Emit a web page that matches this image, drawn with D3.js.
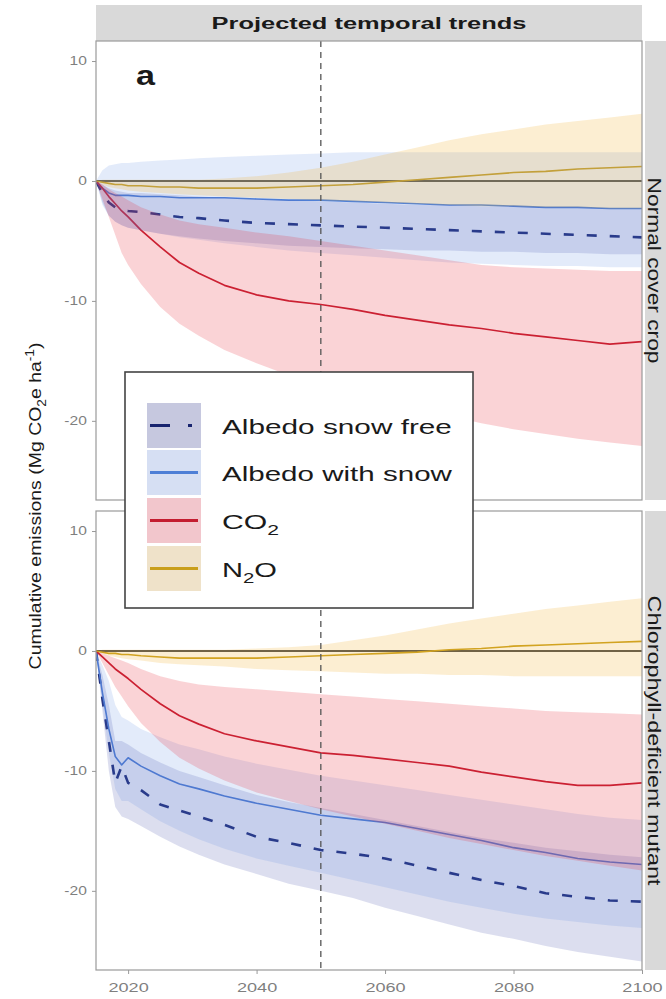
<!DOCTYPE html>
<html>
<head>
<meta charset="utf-8">
<script src="https://cdn.jsdelivr.net/npm/d3@7"></script>
<style>
body{margin:0;background:#fff}
svg{display:block;font-family:"Liberation Sans",Arial,sans-serif}
</style>
</head>
<body>
<svg id="chart" width="666" height="999"></svg>
<script>
var years = [2015, 2016, 2017, 2018, 2019, 2020, 2022, 2025, 2028, 2031, 2035, 2040, 2045, 2050, 2055, 2060, 2065, 2070, 2075, 2080, 2085, 2090, 2095, 2100];

var facets = ['Normal cover crop', 'Chlorophyll-deficient mutant'];
var seriesLabels = [['Albedo snow free'], ['Albedo with snow'], ['CO', '_2'], ['N', '_2', 'O']];
var yTicks = [-20, -10, 0, 10];
var xTicks = [2020, 2040, 2060, 2080, 2100];
var markYear = 2050;

// normal cover crop
var ncSnowFree   = [0, -1.0, -1.8, -2.2, -2.4, -2.5, -2.6, -2.8, -3.0, -3.1, -3.3, -3.5, -3.6, -3.7, -3.8, -3.9, -4.0, -4.1, -4.2, -4.3, -4.4, -4.5, -4.6, -4.7];
var ncSnowFreeHi = [0, -0.3, -0.6, -0.8, -0.9, -1.0, -1.0, -1.1, -1.2, -1.3, -1.4, -1.5, -1.6, -1.7, -1.8, -1.9, -2.0, -2.0, -2.1, -2.1, -2.2, -2.2, -2.3, -2.3];
var ncSnowFreeLo = [0, -1.8, -2.9, -3.4, -3.7, -3.9, -4.1, -4.4, -4.6, -4.8, -5.0, -5.2, -5.4, -5.5, -5.6, -5.7, -5.8, -5.8, -5.9, -5.9, -6.0, -6.0, -6.1, -6.1];
var ncSnow   = [0, -0.6, -1.0, -1.2, -1.2, -1.2, -1.3, -1.3, -1.4, -1.4, -1.4, -1.5, -1.6, -1.6, -1.7, -1.8, -1.9, -2.0, -2.0, -2.1, -2.2, -2.2, -2.3, -2.3];
var ncSnowHi = [0, 0.9, 1.3, 1.4, 1.5, 1.5, 1.6, 1.7, 1.8, 1.9, 2.0, 2.1, 2.2, 2.3, 2.4, 2.4, 2.4, 2.4, 2.4, 2.4, 2.4, 2.4, 2.4, 2.4];
var ncSnowLo = [0, -2.0, -2.9, -3.4, -3.7, -3.9, -4.1, -4.4, -4.7, -4.9, -5.2, -5.5, -5.8, -6.0, -6.2, -6.4, -6.6, -6.8, -6.9, -7.0, -7.1, -7.1, -7.2, -7.2];
var ncCO2   = [0, -0.6, -1.3, -1.9, -2.5, -3.0, -4.1, -5.5, -6.8, -7.7, -8.7, -9.5, -10.0, -10.3, -10.7, -11.2, -11.6, -12.0, -12.3, -12.7, -13.0, -13.3, -13.6, -13.4];
var ncCO2Hi = [0, -0.3, -0.7, -1.0, -1.3, -1.6, -2.2, -2.8, -3.3, -3.6, -3.9, -4.3, -4.6, -5.0, -5.4, -5.8, -6.2, -6.6, -7.0, -7.2, -7.3, -7.4, -7.5, -7.5];
var ncCO2Lo = [0, -1.5, -3.0, -4.5, -6.0, -7.0, -8.6, -10.5, -11.9, -12.9, -14.1, -15.2, -16.2, -17.0, -17.7, -18.4, -19.0, -19.6, -20.2, -20.7, -21.1, -21.5, -21.8, -22.1];
var ncN2O   = [0, -0.1, -0.2, -0.3, -0.3, -0.4, -0.4, -0.5, -0.5, -0.6, -0.6, -0.6, -0.5, -0.4, -0.3, -0.1, 0.1, 0.3, 0.5, 0.7, 0.8, 1.0, 1.1, 1.2];
var ncN2OHi = [0, 0.1, 0.1, 0.1, 0.1, 0.1, 0.1, 0.1, 0.1, 0.1, 0.2, 0.4, 0.7, 1.1, 1.6, 2.2, 2.8, 3.4, 3.9, 4.3, 4.7, 5.0, 5.3, 5.6];
var ncN2OLo = [0, -0.3, -0.5, -0.6, -0.7, -0.8, -0.9, -1.0, -1.1, -1.2, -1.3, -1.4, -1.5, -1.6, -1.7, -1.8, -1.9, -2.0, -2.1, -2.1, -2.2, -2.2, -2.3, -2.3];

// chlorophyll-deficient mutant
var cdSnowFree   = [0, -4.0, -7.5, -11.0, -9.6, -11.0, -11.6, -12.8, -13.3, -13.8, -14.5, -15.5, -16.0, -16.6, -16.9, -17.3, -17.9, -18.5, -19.1, -19.6, -20.2, -20.5, -20.8, -20.9];
var cdSnowFreeHi = [0, -2.0, -4.5, -7.5, -7.5, -7.8, -8.5, -9.3, -10.0, -10.5, -11.2, -12.0, -12.6, -13.1, -13.6, -14.1, -14.6, -15.1, -15.6, -16.0, -16.4, -16.7, -17.0, -17.2];
var cdSnowFreeLo = [0, -5.0, -10.0, -13.0, -13.8, -14.0, -14.6, -15.5, -16.3, -17.0, -17.8, -18.6, -19.4, -20.0, -20.6, -21.4, -22.1, -22.8, -23.5, -24.0, -24.6, -25.1, -25.5, -25.9];
var cdSnow   = [0, -3.5, -6.5, -8.8, -9.5, -8.9, -9.6, -10.4, -11.1, -11.5, -12.1, -12.7, -13.2, -13.7, -14.0, -14.3, -14.8, -15.3, -15.8, -16.4, -16.8, -17.3, -17.6, -17.8];
var cdSnowHi = [0, -1.2, -2.5, -4.5, -5.5, -5.8, -6.5, -7.2, -7.8, -8.2, -8.8, -9.4, -9.9, -10.4, -10.8, -11.2, -11.6, -12.0, -12.4, -12.8, -13.2, -13.6, -13.9, -14.1];
var cdSnowLo = [0, -4.5, -8.5, -11.5, -12.5, -12.5, -13.2, -14.2, -15.0, -15.7, -16.5, -17.3, -17.9, -18.5, -19.1, -19.7, -20.3, -20.9, -21.4, -21.9, -22.3, -22.6, -22.9, -23.1];
var cdCO2   = [0, -0.5, -1.0, -1.5, -1.9, -2.3, -3.2, -4.4, -5.4, -6.1, -6.9, -7.5, -8.0, -8.5, -8.7, -9.0, -9.3, -9.6, -10.1, -10.5, -10.9, -11.2, -11.2, -11.0];
var cdCO2Hi = [0, -0.2, -0.4, -0.6, -0.8, -1.0, -1.5, -2.1, -2.5, -2.8, -3.0, -3.2, -3.4, -3.6, -3.8, -4.0, -4.2, -4.4, -4.6, -4.8, -5.0, -5.1, -5.2, -5.3];
var cdCO2Lo = [0, -1.0, -2.0, -3.0, -3.8, -4.6, -6.0, -7.6, -8.9, -9.8, -10.8, -11.8, -12.5, -13.2, -13.8, -14.4, -15.0, -15.6, -16.1, -16.6, -17.1, -17.5, -17.9, -18.3];
var cdN2O   = [0, -0.1, -0.2, -0.2, -0.3, -0.3, -0.4, -0.5, -0.6, -0.6, -0.6, -0.6, -0.5, -0.4, -0.3, -0.2, -0.1, 0.1, 0.2, 0.4, 0.5, 0.6, 0.7, 0.8];
var cdN2OHi = [0, 0.1, 0.1, 0.1, 0.1, 0.1, 0.1, 0.1, 0.1, 0.1, 0.1, 0.2, 0.3, 0.5, 0.9, 1.3, 1.8, 2.3, 2.7, 3.1, 3.5, 3.8, 4.1, 4.4];
var cdN2OLo = [0, -0.2, -0.4, -0.5, -0.6, -0.7, -0.8, -1.0, -1.1, -1.2, -1.3, -1.5, -1.6, -1.7, -1.8, -1.9, -1.9, -2.0, -2.0, -2.1, -2.1, -2.1, -2.1, -2.1];

// look of each series, same order as seriesLabels
var styles = [
  {fill: '#4550a8', op: 0.19, stroke: '#18246f', width: 2.6, dash: '10,13', key: '#c6c8df'},
  {fill: '#5a88e2', op: 0.17, stroke: '#4e7fd6', width: 1.6, dash: null, key: '#d6dff3'},
  {fill: '#e8303f', op: 0.21, stroke: '#c41d30', width: 1.7, dash: null, key: '#f2c6cc'},
  {fill: '#f0b030', op: 0.22, stroke: '#c99f1c', width: 1.6, dash: null, key: '#efe2c9'}
];

var panels = [
  {label: facets[0], top: 41, series: [[ncSnowFree, ncSnowFreeLo, ncSnowFreeHi], [ncSnow, ncSnowLo, ncSnowHi], [ncCO2, ncCO2Lo, ncCO2Hi], [ncN2O, ncN2OLo, ncN2OHi]]},
  {label: facets[1], top: 511, series: [[cdSnowFree, cdSnowFreeLo, cdSnowFreeHi], [cdSnow, cdSnowLo, cdSnowHi], [cdCO2, cdCO2Lo, cdCO2Hi], [cdN2O, cdN2OLo, cdN2OHi]]}
];

var svg = d3.select('#chart'),
  left = 96, right = 642, panelH = 459;

var x = d3.scaleLinear().domain([2015, 2100]).range([left, right]);
var y = d3.scaleLinear().domain([-26.6, 11.67]).range([panelH, 0]);

function rows(s){
  return years.map(function(yr, i){ return {year: yr, mean: s[0][i], lo: s[1][i], hi: s[2][i]}; });
}

var line = d3.line().x(function(d){ return x(d.year); }).y(function(d){ return y(d.mean); });
var band = d3.area().x(function(d){ return x(d.year); }).y0(function(d){ return y(d.lo); }).y1(function(d){ return y(d.hi); });

// text squeezed/stretched along its own direction to a given length
function fitText(parent, parts, tx, ty, rot, size, weight, target, anchor){
  var g = parent.append('g').attr('transform', 'translate(' + tx + ',' + ty + ')rotate(' + rot + ')');
  var t = g.append('text').attr('font-size', size).attr('font-weight', weight || 'normal')
    .attr('fill', '#1a1a1a').attr('text-anchor', anchor || 'start');
  var shift = 0;
  parts.forEach(function(p){
    var mode = p.charAt(0), s = p;
    var ts = t.append('tspan');
    if (mode == '_' || mode == '^') {
      s = p.slice(1);
      var d = mode == '_' ? size * 0.3 : -size * 0.4;
      ts.attr('font-size', size * 0.7).attr('dy', d - shift);
      shift = d;
    } else if (shift) {
      ts.attr('dy', -shift);
      shift = 0;
    }
    ts.text(s);
  });
  var len = t.node().getComputedTextLength();
  t.attr('transform', 'scale(' + (target / len) + ',1)');
  return t;
}

svg.append('rect').attr('width', 666).attr('height', 999).attr('fill', '#fff');

// top strip
svg.append('rect').attr('x', left).attr('y', 5).attr('width', right - left).attr('height', 36).attr('fill', '#d9d9d9');
fitText(svg, ['Projected temporal trends'], (left + right) / 2, 29, 0, 17, 'bold', 315, 'middle');

panels.forEach(function(p, pi){
  var g = svg.append('g').attr('transform', 'translate(0,' + p.top + ')');
  g.append('clipPath').attr('id', 'clip' + pi)
    .append('rect').attr('x', left).attr('y', 0).attr('width', right - left).attr('height', panelH);
  var plot = g.append('g').attr('clip-path', 'url(#clip' + pi + ')');

  plot.append('line').attr('x1', left).attr('x2', right).attr('y1', y(0)).attr('y2', y(0))
    .attr('stroke', '#111').attr('stroke-width', 1.4);

  p.series.forEach(function(s, i){
    var st = styles[i];
    plot.append('path').datum(rows(s)).attr('d', line)
      .attr('fill', 'none').attr('stroke', st.stroke).attr('stroke-width', st.width)
      .attr('stroke-dasharray', st.dash).attr('stroke-linejoin', 'round');
  });
  p.series.forEach(function(s, i){
    var st = styles[i];
    plot.append('path').datum(rows(s)).attr('d', band)
      .attr('fill', st.fill).attr('fill-opacity', st.op);
  });

  plot.append('line').attr('x1', x(markYear)).attr('x2', x(markYear)).attr('y1', 0).attr('y2', panelH)
    .attr('stroke', '#555').attr('stroke-width', 1.3).attr('stroke-dasharray', '6,5');

  g.append('rect').attr('x', left).attr('y', 0).attr('width', right - left).attr('height', panelH)
    .attr('fill', 'none').attr('stroke', '#9a9a9a').attr('stroke-width', 1.2);

  var ya = g.append('g').attr('transform', 'translate(' + left + ',0)')
    .call(d3.axisLeft(y).tickValues(yTicks).tickSize(4).tickPadding(3).tickFormat(function(d){ return String(d); }));
  ya.attr('font-family', null).attr('font-size', null);
  ya.select('.domain').remove();
  ya.selectAll('line').attr('stroke', '#999');
  ya.selectAll('text').attr('fill', '#7f7f7f').attr('font-size', 12).attr('transform', 'scale(1.3,1)');

  if (pi == panels.length - 1) {
    var xa = g.append('g').attr('transform', 'translate(0,' + panelH + ')')
      .call(d3.axisBottom(x).tickValues(xTicks).tickSize(4).tickPadding(9).tickFormat(function(d){ return String(d); }));
    xa.attr('font-family', null).attr('font-size', null);
    xa.select('.domain').remove();
    xa.selectAll('line').attr('stroke', '#999');
    xa.selectAll('text').attr('fill', '#7f7f7f').attr('font-size', 12.5).attr('transform', 'scale(1.45,1)');
  }

  // side strip
  g.append('rect').attr('x', right + 3).attr('y', 0).attr('width', 40).attr('height', panelH).attr('fill', '#d9d9d9');
  fitText(g, [p.label], right + 6, panelH / 2, 90, 18, 'normal', pi == 0 ? 186 : 290, 'middle');
});

// panel tag
fitText(svg, ['a'], 136, 85, 0, 28, 'bold', 19, 'start');

// y title
fitText(svg, ['Cumulative emissions (Mg CO', '_2', 'e ha', '^-1', ')'], 41, 506, -90, 17, 'normal', 327, 'middle');

// legend
var lg = svg.append('g');
lg.append('rect').attr('x', 125).attr('y', 372).attr('width', 348).attr('height', 236)
  .attr('fill', '#fff').attr('stroke', '#444').attr('stroke-width', 1.6);
var keyY = [403, 450, 498, 546],
  textLen = [230, 230, 57, 55];
seriesLabels.forEach(function(lab, i){
  var st = styles[i];
  lg.append('rect').attr('x', 147).attr('y', keyY[i]).attr('width', 54).attr('height', 45).attr('fill', st.key);
  lg.append('line').attr('x1', 150).attr('x2', 198).attr('y1', keyY[i] + 22.5).attr('y2', keyY[i] + 22.5)
    .attr('stroke', st.stroke).attr('stroke-width', 3)
    .attr('stroke-dasharray', i == 0 ? '20,18,4,100' : null);
  fitText(lg, lab, 222, keyY[i] + 31, 0, 21, 'normal', textLen[i], 'start');
});
</script>
</body>
</html>
